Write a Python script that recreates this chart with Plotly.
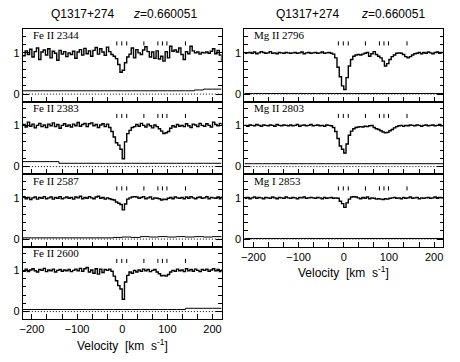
import plotly.graph_objects as go

# ---------------- data ----------------
VELOCITY = [-220, -215, -210, -205, -200, -195, -190, -185, -180, -175,
            -170, -165, -160, -155, -150, -145, -140, -135, -130, -125,
            -120, -115, -110, -105, -100, -95, -90, -85, -80, -75,
            -70, -65, -60, -55, -50, -45, -40, -35, -30, -25,
            -20, -15, -10, -5, 0, 5, 10, 15, 20, 25,
            30, 35, 40, 45, 50, 55, 60, 65, 70, 75,
            80, 85, 90, 95, 100, 105, 110, 115, 120, 125,
            130, 135, 140, 145, 150, 155, 160, 165, 170, 175,
            180, 185, 190, 195, 200, 205, 210, 215, 220]

ERR_VELOCITY = [-220, -200, -180, -160, -140, -120, -100, -80, -60, -40, -20, 0,
                20, 40, 60, 80, 100, 120, 140, 160, 180, 200, 220]

FE2344 = [0.93, 1.05, 0.96, 1.09, 0.90, 1.03, 1.12, 0.84, 1.02, 1.07,
          0.95, 1.10, 0.88, 1.04, 0.99, 0.82, 1.06, 0.97, 1.03, 0.91,
          1.00, 0.96, 1.04, 0.87, 1.02, 1.08, 0.95, 1.11, 0.98, 1.05,
          0.92, 1.06, 1.13, 0.97, 1.10, 1.02, 0.94, 1.14, 1.03, 0.96,
          0.92, 0.86, 0.72, 0.53, 0.58, 0.76, 0.90, 0.97, 1.12, 0.88,
          1.08, 1.00, 0.96, 1.07, 1.15, 1.03, 0.90, 1.02, 0.87, 1.05,
          0.85, 0.92, 0.80, 1.03, 0.88, 1.16, 1.04, 1.07, 1.02, 1.12,
          0.96, 0.84, 1.03, 0.98, 1.16, 1.05, 1.00, 1.02, 0.97, 1.01,
          1.00, 1.02, 0.99, 1.04, 1.10, 0.98, 1.06, 0.95, 0.78]

FE2383 = [1.02, 0.96, 1.08, 0.98, 1.03, 0.94, 1.00, 1.05, 0.97, 1.01,
          0.95, 1.03, 0.99, 1.06, 0.97, 1.02, 0.93, 1.00, 1.04, 0.98,
          1.01, 0.96, 1.03, 0.99, 1.07, 0.98, 1.02, 1.05, 0.97, 1.04,
          1.06, 0.99, 1.02, 0.95, 1.01, 1.04, 0.97, 1.03, 0.95, 0.85,
          0.72, 0.58, 0.52, 0.42, 0.19, 0.60, 0.80, 0.88, 0.95, 0.97,
          1.02, 0.98, 1.05, 1.00, 0.96, 1.03, 0.99, 0.94, 1.01, 0.97,
          0.92, 0.86, 0.80, 0.82, 0.85, 0.93, 0.99, 0.96, 1.02, 0.98,
          1.00, 0.97, 1.04, 0.99, 0.95, 1.03, 1.01, 0.97, 1.05, 1.00,
          0.98, 1.04, 1.00, 0.96, 1.08, 1.02, 0.99, 1.05, 1.01]

FE2587 = [1.03, 0.98, 1.01, 0.96, 1.00, 1.02, 0.97, 1.01, 0.99, 1.03,
          0.98, 1.00, 1.02, 0.97, 1.01, 0.99, 1.03, 0.98, 1.00, 1.02,
          0.99, 1.01, 0.97, 1.02, 1.00, 1.04, 0.98, 1.01, 0.99, 1.03,
          1.00, 0.98, 1.02, 1.04, 0.99, 1.01, 0.97, 1.00, 0.98, 0.96,
          0.95, 0.90, 0.87, 0.84, 0.71, 0.85, 0.97, 1.00, 1.02, 1.03,
          1.02, 0.99, 1.01, 1.03, 0.98, 1.00, 1.02, 0.97, 1.00, 0.99,
          0.98, 0.95, 0.97, 0.96, 0.99, 1.01, 0.98, 1.02, 1.00, 0.99,
          1.01, 0.98, 1.02, 0.99, 1.03, 1.00, 0.98, 1.01, 1.02, 0.99,
          1.00, 1.03, 0.98, 1.01, 1.00, 0.99, 1.02, 0.98, 1.04]

FE2600 = [0.98, 1.03, 0.97, 1.01, 1.04, 0.99, 0.96, 1.02, 1.00, 1.05,
          0.97, 1.01, 0.99, 1.03, 0.96, 1.00, 1.02, 0.98, 1.01, 0.99,
          1.02, 0.97, 1.00, 1.03, 0.99, 1.05, 0.98, 1.04, 1.07, 0.96,
          1.01, 0.93, 1.04, 0.91, 1.03, 0.95, 1.02, 1.00, 1.03, 0.98,
          0.86, 0.75, 0.63, 0.55, 0.30, 0.72, 0.88, 0.96, 0.93, 1.00,
          0.96, 1.01, 0.98, 1.03, 0.99, 1.02, 0.97, 1.00, 1.02, 0.96,
          0.92, 0.87, 0.88, 0.86, 0.90, 0.96, 1.00, 0.98, 1.03, 0.99,
          1.01, 0.97, 1.04, 0.99, 1.02, 0.98, 1.03, 1.00, 0.97, 1.02,
          1.00, 1.03, 0.98, 1.01, 1.04, 0.99, 1.02, 0.97, 1.03]

MG2796 = [0.99, 1.00, 1.01, 0.99, 1.02, 0.98, 1.00, 1.03, 1.01, 0.99,
          1.00, 1.03, 0.99, 1.00, 0.98, 1.01, 1.00, 0.99, 1.01, 1.00,
          0.99, 1.00, 1.01, 0.99, 1.00, 1.02, 0.98, 1.00, 1.01, 0.99,
          1.00, 1.01, 0.99, 1.00, 1.02, 0.99, 1.00, 1.01, 0.99, 0.97,
          0.88, 0.65, 0.42, 0.20, 0.11, 0.40, 0.68, 0.84, 0.92, 0.95,
          0.96, 0.95, 0.97, 0.99, 1.01, 0.92, 0.98, 1.03, 0.96, 0.92,
          0.88, 0.80, 0.68, 0.74, 0.84, 0.91, 0.95, 0.99, 1.00, 0.99,
          0.96, 0.91, 0.88, 0.91, 0.95, 0.98, 0.99, 1.01, 0.98, 1.01,
          0.99, 1.02, 1.00, 0.98, 1.01, 1.02, 0.99, 1.01, 1.00]

MG2803 = [1.00, 0.98, 1.01, 1.00, 0.99, 1.02, 1.00, 0.98, 1.01, 1.00,
          0.99, 1.01, 1.00, 0.98, 1.02, 1.00, 0.99, 1.01, 1.00, 0.99,
          1.01, 0.99, 1.00, 1.02, 0.98, 1.00, 1.01, 0.99, 1.00, 1.02,
          0.99, 1.00, 1.01, 0.99, 1.00, 0.98, 1.01, 1.00, 0.99, 0.95,
          0.85, 0.68, 0.50, 0.42, 0.33, 0.55, 0.76, 0.86, 0.92, 0.95,
          0.96, 0.97, 0.96, 0.98, 0.97, 0.99, 1.00, 0.95, 0.92, 0.90,
          0.87, 0.84, 0.82, 0.83, 0.87, 0.90, 0.94, 0.97, 0.99, 1.00,
          0.98, 1.00, 0.99, 1.01, 1.00, 0.99, 1.01, 1.00, 0.98, 1.00,
          1.01, 0.99, 1.00, 1.01, 0.99, 1.00, 1.02, 0.99, 1.00]

MG2853 = [0.99, 1.01, 0.98, 1.00, 1.02, 0.99, 1.01, 1.00, 0.98, 1.01,
          1.00, 0.99, 1.02, 1.00, 0.98, 1.01, 1.00, 0.99, 1.02, 1.00,
          0.99, 1.01, 1.00, 0.98, 1.01, 1.00, 1.02, 0.99, 1.00, 1.01,
          1.00, 0.99, 1.01, 1.00, 0.98, 1.01, 0.99, 1.00, 1.01, 0.99,
          1.00, 0.99, 0.92, 0.86, 0.77, 0.88, 0.97, 1.02, 1.03, 1.02,
          1.00, 0.98, 1.01, 0.99, 1.02, 0.98, 1.00, 0.99, 0.97, 0.98,
          0.97, 0.96, 0.98, 0.97, 0.99, 1.00, 1.01, 0.99, 1.00, 0.98,
          1.01, 0.99, 1.00, 1.02, 0.99, 1.00, 1.01, 0.98, 1.00, 0.99,
          1.00, 1.01, 0.99, 1.00, 1.02, 0.99, 1.01, 1.00, 0.99]

FE2344_ERR = [0.08, 0.08, 0.08, 0.08, 0.08, 0.08, 0.08, 0.08, 0.08, 0.08, 0.08, 0.08,
              0.08, 0.08, 0.08, 0.08, 0.08, 0.08, 0.08, 0.10, 0.12, 0.12, 0.12]
FE2383_ERR = [0.12, 0.12, 0.12, 0.12, 0.08, 0.08, 0.08, 0.08, 0.08, 0.08, 0.08, 0.08,
              0.08, 0.08, 0.08, 0.08, 0.08, 0.08, 0.08, 0.08, 0.08, 0.08, 0.08]
FE2587_ERR = [0.03, 0.03, 0.03, 0.03, 0.03, 0.03, 0.03, 0.03, 0.03, 0.03, 0.04, 0.05,
              0.04, 0.06, 0.05, 0.06, 0.05, 0.06, 0.05, 0.06, 0.05, 0.06, 0.05]
FE2600_ERR = [0.05, 0.05, 0.05, 0.05, 0.05, 0.05, 0.05, 0.05, 0.05, 0.05, 0.05, 0.05,
              0.05, 0.05, 0.05, 0.05, 0.05, 0.05, 0.08, 0.08, 0.08, 0.08, 0.08]
MG2796_ERR = [0.015] * 23
MG2803_ERR = [0.07] * 23
MG2853_ERR = [0.015] * 23

COMPONENTS = [-12, -1, 10, 48, 79, 89, 99, 140]
COMPONENT_TICK_Y = [1.18, 1.28]

LABELS = ["Fe II 2344", "Fe II 2383", "Fe II 2587", "Fe II 2600",
          "Mg II 2796", "Mg II 2803", "Mg I 2853"]
FLUXES = [FE2344, FE2383, FE2587, FE2600, MG2796, MG2803, MG2853]
ERRORS = [FE2344_ERR, FE2383_ERR, FE2587_ERR, FE2600_ERR,
          MG2796_ERR, MG2803_ERR, MG2853_ERR]
COLUMN = [0, 0, 0, 0, 1, 1, 1]
ROW = [0, 1, 2, 3, 0, 1, 2]

X_RANGE = [-220, 220]
Y_RANGE = [-0.18, 1.58]
X_TICKS = [-200, -100, 0, 100, 200]
Y_TICKS = [0, 1]

TITLE_QSO = "Q1317+274"
TITLE_Z = "<i>z</i>=0.660051"
XLABEL = "Velocity  [km  s<sup>-1</sup>]"

# ---------------- layout geometry (pixels) ----------------
W, H = 460, 362
COL_X = [(20, 220), (243, 443)]
TOP = 29
PH = 72.5
SANS = "Liberation Sans"
SERIF = "Liberation Serif"

fig = go.Figure()
layout = {}
annotations = []
shapes = []

for i in range(7):
    k = i + 1
    suffix = "" if k == 1 else str(k)
    xa, ya = "x" + suffix, "y" + suffix
    c, r = COLUMN[i], ROW[i]
    x0, x1 = COL_X[c]
    top = TOP + r * PH
    bot = top + PH
    is_bottom = (c == 0 and r == 3) or (c == 1 and r == 2)

    layout["xaxis" + suffix] = dict(
        domain=[x0 / W, x1 / W], anchor=ya, range=X_RANGE,
        showline=True, linecolor="black", linewidth=1, mirror=True,
        showgrid=False, zeroline=False,
        ticks="inside", ticklen=5, tickcolor="black", tickwidth=1,
        tickvals=X_TICKS, showticklabels=is_bottom,
        tickfont=dict(family=SANS, size=11, color="black"),
        ticklabelstandoff=0,
        minor=dict(ticks="inside", ticklen=5, tickcolor="black", tickwidth=1,
                   tick0=0, dtick=100 / 3),
    )
    layout["yaxis" + suffix] = dict(
        domain=[1 - bot / H, 1 - top / H], anchor=xa, range=Y_RANGE,
        showline=True, linecolor="black", linewidth=1, mirror="ticks",
        showgrid=False, zeroline=False,
        ticks="inside", ticklen=6, tickcolor="black", tickwidth=1,
        tickvals=Y_TICKS, showticklabels=True,
        tickfont=dict(family=SANS, size=11, color="black"),
        ticklabelstandoff=0,
        minor=dict(ticks="inside", ticklen=3.5, tickcolor="black", tickwidth=1,
                   tick0=0, dtick=0.2),
    )

    # zero level, dotted
    shapes.append(dict(type="line", xref=xa + " domain", yref=ya,
                       x0=0, x1=1, y0=0, y1=0,
                       line=dict(color="black", width=1, dash="1px,2px")))

    # error spectrum
    fig.add_trace(go.Scatter(x=ERR_VELOCITY, y=ERRORS[i], xaxis=xa, yaxis=ya,
                             mode="lines", line=dict(color="black", width=1, shape="hv"),
                             hoverinfo="skip", showlegend=False))
    # flux spectrum
    fig.add_trace(go.Scatter(x=VELOCITY, y=FLUXES[i], xaxis=xa, yaxis=ya,
                             mode="lines", line=dict(color="black", width=1.4, shape="hv"),
                             showlegend=False))
    # component ticks
    tx, ty = [], []
    for v in COMPONENTS:
        tx += [v, v, None]
        ty += [COMPONENT_TICK_Y[0], COMPONENT_TICK_Y[1], None]
    fig.add_trace(go.Scatter(x=tx, y=ty, xaxis=xa, yaxis=ya, mode="lines",
                             line=dict(color="black", width=1),
                             hoverinfo="skip", showlegend=False))

    # panel label
    annotations.append(dict(text=LABELS[i], xref=xa + " domain", yref=ya + " domain",
                            x=0.04, y=1 - 6.5 / PH, xanchor="left", yanchor="middle",
                            showarrow=False,
                            font=dict(family=SERIF, size=11, color="black")))

# titles
for cx_q, cx_z in [(80, 163), (306.5, 393)]:
    annotations.append(dict(text=TITLE_QSO, xref="paper", yref="paper",
                            x=cx_q / W, y=1 - 14 / H, xanchor="center", yanchor="middle",
                            showarrow=False, font=dict(family=SANS, size=12, color="black")))
    annotations.append(dict(text=TITLE_Z, xref="paper", yref="paper",
                            x=cx_z / W, y=1 - 14 / H, xanchor="center", yanchor="middle",
                            showarrow=False, font=dict(family=SANS, size=12, color="black")))

# x axis titles
for cx, cy in [(120, 345), (343, 272)]:
    annotations.append(dict(text=XLABEL, xref="paper", yref="paper",
                            x=cx / W, y=1 - cy / H, xanchor="center", yanchor="middle",
                            showarrow=False, font=dict(family=SANS, size=12, color="black")))

fig.update_layout(
    width=W, height=H,
    margin=dict(l=0, r=0, t=0, b=0),
    paper_bgcolor="white", plot_bgcolor="white",
    showlegend=False,
    annotations=annotations, shapes=shapes,
    **layout,
)

fig.write_html("out.html", config={"displayModeBar": False},
               post_script="document.body.style.margin='0px';")
